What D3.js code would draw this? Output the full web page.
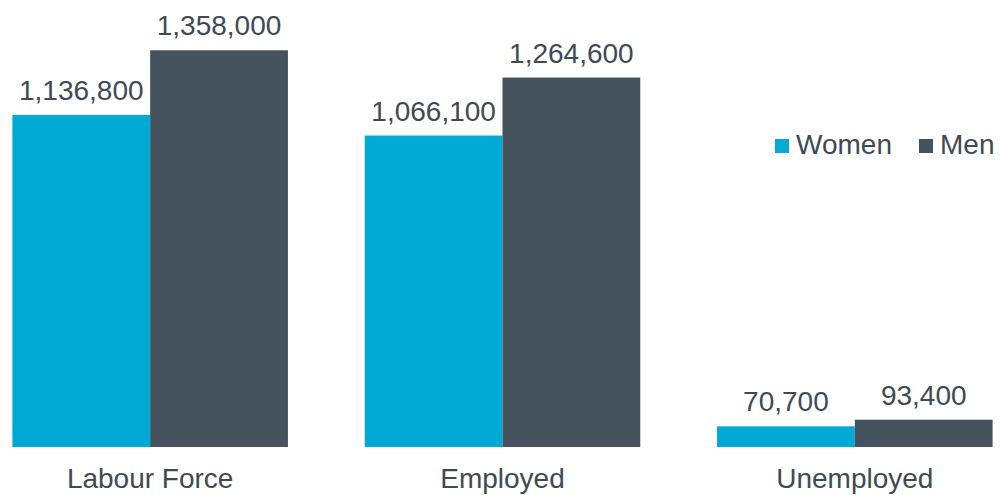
<!DOCTYPE html>
<html>
<head>
<meta charset="utf-8">
<script src="https://cdn.jsdelivr.net/npm/d3@7"></script>
<style>
    body { margin: 0; background: #fff; }
    text { font-family: "Liberation Sans", Arial, sans-serif; fill: #3e4a54; }
</style>
</head>
<body>
<div id="chart"></div>
<script>
const categories = ["Labour Force", "Employed", "Unemployed"];
const seriesNames = ["Women", "Men"];
const women = [1136800, 1066100, 70700];
const men = [1358000, 1264600, 93400];
const seriesColors = ["#00aad4", "#45535e"];

class GroupedBars {
    constructor(target, width = 1002, height = 495) {
        this.target = target;
        this.width = width;
        this.height = height;
        this.baseline = 447;
    }

    initialize() {
        this.svg = d3.select(this.target)
            .append('svg')
            .attr('width', this.width)
            .attr('height', this.height);

        // groups are ~352px apart, bars ~137px wide
        this.x = d3.scaleBand()
            .domain(categories)
            .range([-26, 1031])
            .paddingInner(0.218)
            .paddingOuter(0.109);

        this.xInner = d3.scaleBand()
            .domain(seriesNames)
            .range([0, this.x.bandwidth()]);

        this.y = d3.scaleLinear()
            .domain([0, 1400000])
            .range([this.baseline, 38]);

        this.draw();
    }

    draw() {
        const rows = categories.map((c, i) => ({
            category: c,
            values: [
                { name: seriesNames[0], value: women[i], color: seriesColors[0] },
                { name: seriesNames[1], value: men[i], color: seriesColors[1] }
            ]
        }));

        var x = this.x, xInner = this.xInner, y = this.y;
        var fmt = d3.format(',');

        const groups = this.svg.append('g')
            .selectAll('g')
            .data(rows)
            .enter()
            .append('g')
            .attr('transform', d => 'translate(' + x(d.category) + ',0)');

        groups.selectAll('rect')
            .data(d => d.values)
            .enter()
            .append('rect')
            .attr('x', d => xInner(d.name))
            .attr('y', d => y(d.value))
            .attr('width', xInner.bandwidth())
            .attr('height', d => y(0) - y(d.value))
            .style('fill', d => d.color);

        groups.selectAll('text.value')
            .data(d => d.values)
            .enter()
            .append('text')
            .attr('class', 'value')
            .attr('x', d => xInner(d.name) + xInner.bandwidth() / 2)
            .attr('y', d => y(d.value) - 15)
            .attr('text-anchor', 'middle')
            .style('font-size', '28px')
            .text(d => fmt(d.value));

        // category axis labels, no axis line
        const axis = this.svg.append('g')
            .attr('transform', 'translate(0,' + this.baseline + ')')
            .call(d3.axisBottom(x).tickSize(0).tickPadding(0));
        axis.select('.domain').remove();
        axis.selectAll('text')
            .attr('dy', null)
            .attr('y', 41)
            .style('font-size', '28px')
            .attr('fill', null);
        axis.attr('font-family', null).attr('font-size', null);

        // legend
        const legendX = [775, 919];
        const legend = this.svg.append('g')
            .selectAll('g')
            .data(seriesNames)
            .enter()
            .append('g')
            .attr('transform', (d, i) => 'translate(' + legendX[i] + ',139)');
        legend.append('rect')
            .attr('width', 14)
            .attr('height', 14)
            .style('fill', (d, i) => seriesColors[i]);
        legend.append('text')
            .attr('x', 21)
            .attr('y', 15)
            .style('font-size', '28px')
            .text(d => d);
    }
}

const chart = new GroupedBars('#chart');
chart.initialize();
</script>
</body>
</html>
